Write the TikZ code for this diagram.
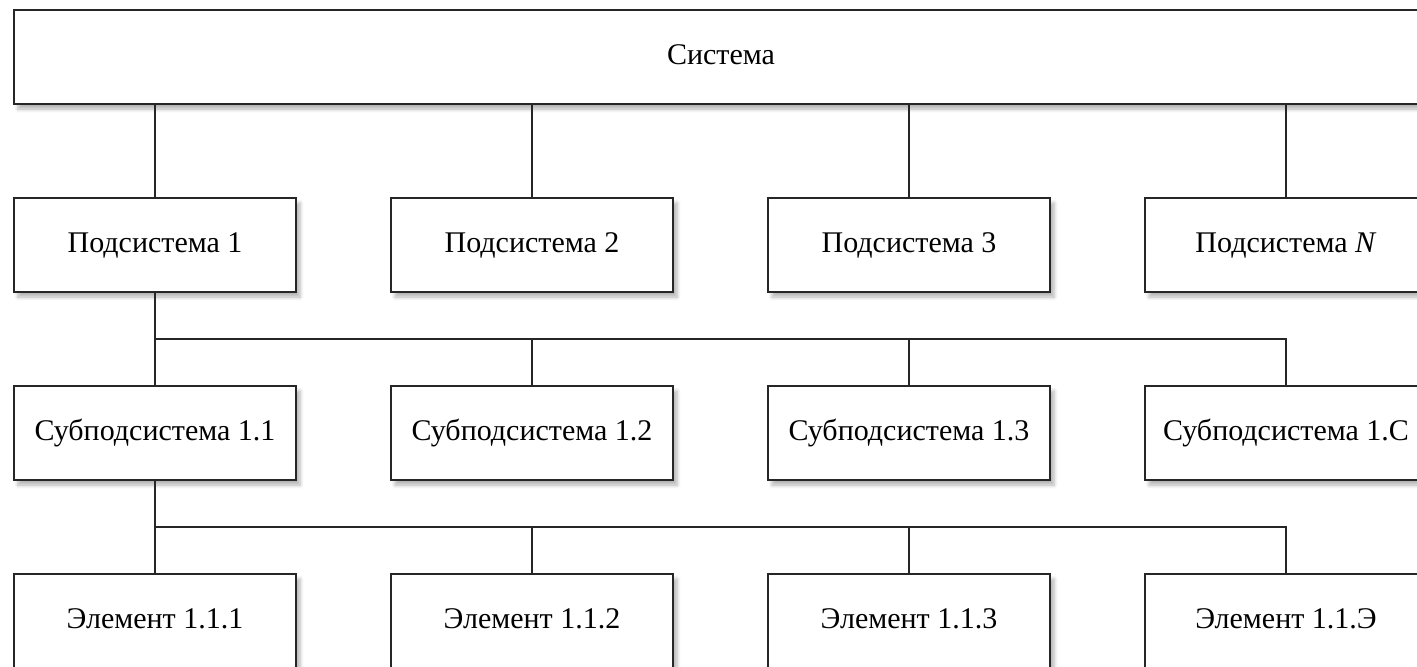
\documentclass[tikz,border=0pt]{standalone}
\usepackage{fontspec}
\setmainfont{Liberation Serif}
\usepackage{tikz}
\usetikzlibrary{positioning}
\usetikzlibrary{shadows.blur}

\begin{document}
\begin{tikzpicture}[
  node distance=46pt and 46.5pt,
  mynode/.style={draw=black!85,line width=1pt,fill=white,minimum width=141pt,minimum height=47pt,inner sep=0pt,
    text height=10.5pt,text depth=3.5pt,font=\fontsize{15}{18}\selectfont,
    blur shadow={shadow xshift=2pt,shadow yshift=-2.5pt,shadow blur steps=6,shadow opacity=30}},
  link/.style={draw=black!85,line width=1pt}
]
\useasboundingbox (0,0) rectangle (708.5pt,-333pt);

\node[mynode,minimum width=707pt,anchor=north west] (s) at (6.5pt,-4.5pt) {Система};

\node[mynode,below right=46pt and 0pt of s.south west] (p1) {Подсистема 1};
\node[mynode,right=of p1] (p2) {Подсистема 2};
\node[mynode,right=of p2] (p3) {Подсистема 3};
\node[mynode,right=of p3] (p4) {Подсистема \textit{N}};

\node[mynode,below=of p1] (q1) {Субподсистема 1.1};
\node[mynode,below=of p2] (q2) {Субподсистема 1.2};
\node[mynode,below=of p3] (q3) {Субподсистема 1.3};
\node[mynode,below=of p4] (q4) {Субподсистема 1.С};

\node[mynode,below=of q1] (e1) {Элемент 1.1.1};
\node[mynode,below=of q2] (e2) {Элемент 1.1.2};
\node[mynode,below=of q3] (e3) {Элемент 1.1.3};
\node[mynode,below=of q4] (e4) {Элемент 1.1.Э};

\path (p1.north) edge[link] (p1.north |- s.south)
(p2.north) edge[link] (p2.north |- s.south)
(p3.north) edge[link] (p3.north |- s.south)
(p4.north) edge[link] (p4.north |- s.south)
;

\draw[link] (p1.south) -- coordinate (b1) (q1.north);
\draw[link] (b1) -| (q2.north);
\draw[link] (b1) -| (q3.north);
\draw[link] (b1) -| (q4.north);

\draw[link] (q1.south) -- coordinate (b2) (e1.north);
\draw[link] (b2) -| (e2.north);
\draw[link] (b2) -| (e3.north);
\draw[link] (b2) -| (e4.north);

\end{tikzpicture}
\end{document}
